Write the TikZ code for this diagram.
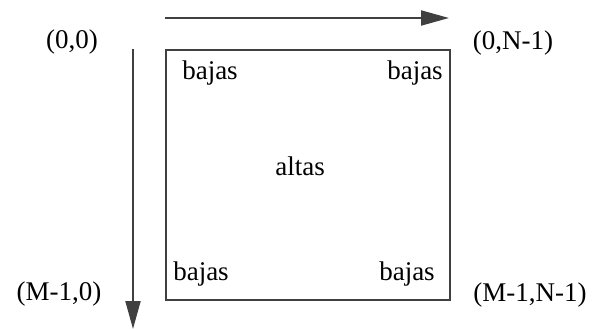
\documentclass[tikz,border=0pt]{standalone}
\usepackage{fontspec}
\setmainfont{Liberation Serif}
\usetikzlibrary{arrows.meta}
\begin{document}
\begin{tikzpicture}[x=1pt,y=-1pt,
  lbl/.style={font=\fontsize{27}{30}\selectfont, inner sep=0pt, text=black},
  edge/.style={draw=black!75, line width=2pt},
  arr/.style={edge, -{Triangle[length=28pt,width=15pt]}}]
\useasboundingbox (0,0) rectangle (592,329);
\node[draw=black!75, line width=2pt, minimum width=284pt, minimum height=250pt, inner sep=0pt, anchor=north west] (sq) at (165,49) {};
\coordinate (hs) at (165,18);
\coordinate (he) at (449,18);
\coordinate (vs) at (133,49);
\coordinate (ve) at (133,329);
\draw[arr] (hs) -- (he);
\draw[arr] (vs) -- (ve);
\node[lbl] (c00) at (72,42) {(0,0)};
\node[lbl] (c0n) at (513,43) {(0,N-1)};
\node[lbl] (cm0) at (59,294) {(M-1,0)};
\node[lbl] (cmn) at (530,295) {(M-1,N-1)};
\node[lbl] (b1) at (210,73) {bajas};
\node[lbl] (b2) at (415,73) {bajas};
\node[lbl] (b3) at (201,274) {bajas};
\node[lbl] (b4) at (407,274) {bajas};
\node[lbl] (al) at (300,166) {altas};
\end{tikzpicture}
\end{document}
